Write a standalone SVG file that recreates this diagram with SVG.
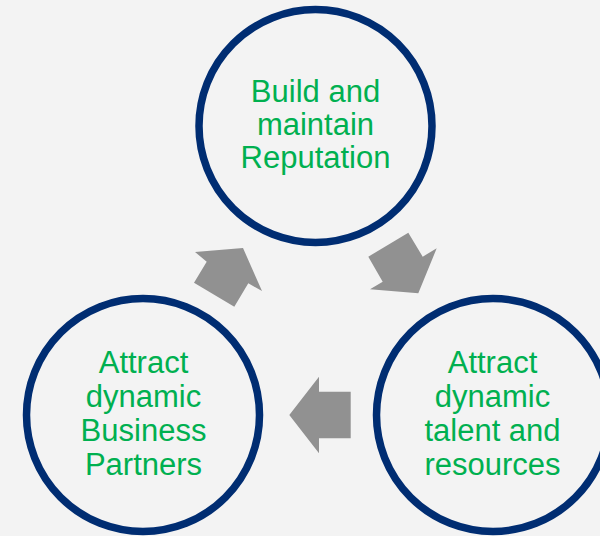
<svg xmlns="http://www.w3.org/2000/svg" width="600" height="536" viewBox="0 0 600 536">
<style>
.node circle{fill:none;stroke:#002D72;stroke-width:7.5}
.node text{font-family:"Liberation Sans",Arial,sans-serif;font-size:31px;fill:#00B050;text-anchor:middle}
.arrow{fill:#919191}
</style>
<rect width="600" height="536" fill="#F3F3F3"/>
<g id="connectors">
<polygon class="arrow" points="195,252 243,248 262,291 248.3,283.3 234.3,306.7 194,282.7 206.7,261.7"/>
<polygon class="arrow" points="408.3,232.7 422.7,256.7 436.7,248.3 418.3,293.3 370,289.3 382.7,281.7 368.3,256.7"/>
<polygon class="arrow" points="289.3,415 319,376.7 319,391.7 350.7,391.7 350.7,438.3 319,438.3 319,453.3"/>
</g>
<g id="node-reputation" class="node">
<circle cx="315.5" cy="126" r="116.5"/>
<text x="315.5" y="102">Build and</text>
<text x="315.5" y="135">maintain</text>
<text x="315.5" y="168">Reputation</text>
</g>
<g id="node-partners" class="node">
<circle cx="143" cy="415" r="116.5"/>
<text x="143.5" y="373">Attract</text>
<text x="143.5" y="407">dynamic</text>
<text x="143.5" y="441">Business</text>
<text x="143.5" y="475">Partners</text>
</g>
<g id="node-talent" class="node">
<circle cx="493" cy="415" r="116.5"/>
<text x="492.5" y="373">Attract</text>
<text x="492.5" y="407">dynamic</text>
<text x="492.5" y="441">talent and</text>
<text x="492.5" y="475">resources</text>
</g>
</svg>
